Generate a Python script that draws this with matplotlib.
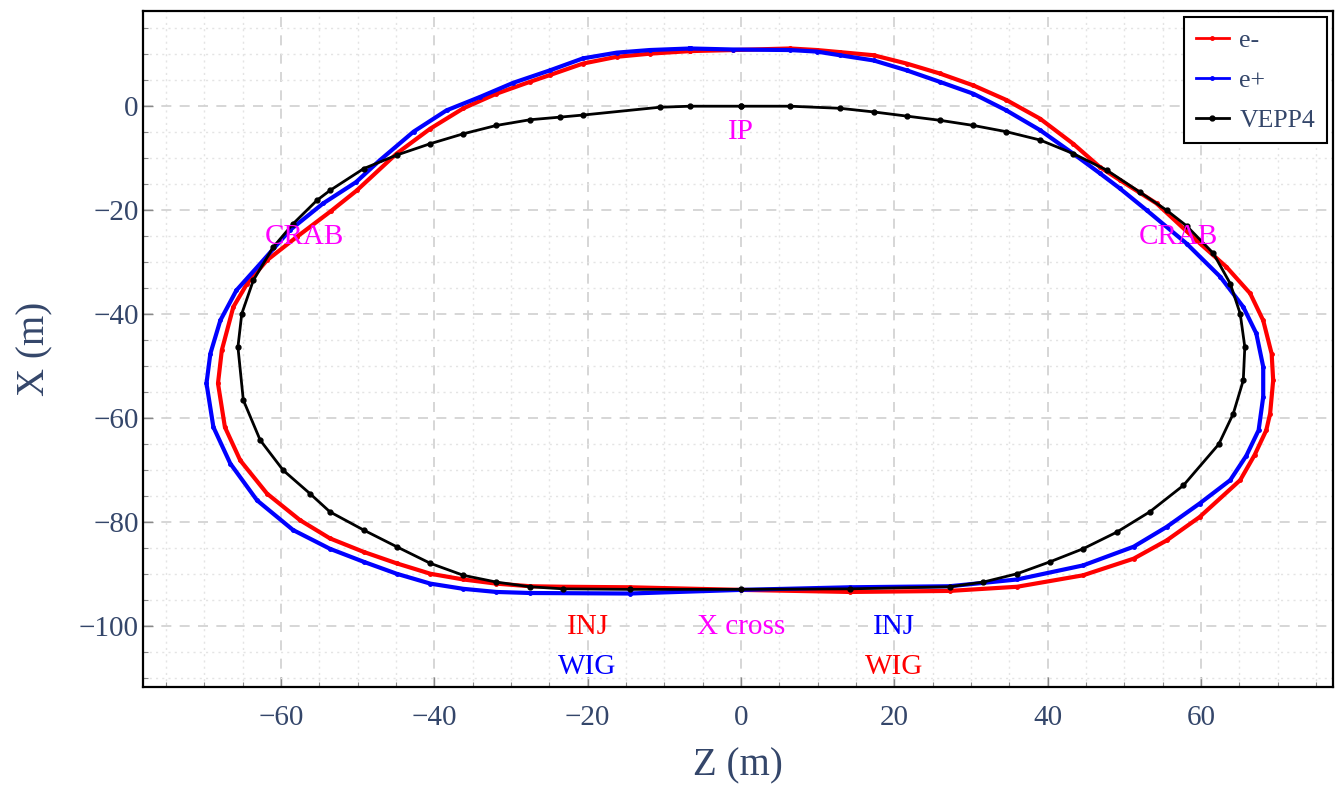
import matplotlib
matplotlib.use("Agg")
import matplotlib.pyplot as plt
from matplotlib.ticker import MultipleLocator

# e- orbit (red), going clockwise from the top
em_z = [-6.6, -1.0, 6.4, 9.9, 12.9, 17.3, 21.6, 25.9, 30.3, 34.6, 39.0, 43.3,
        46.8, 49.4, 54.2, 59.4, 63.3, 66.4, 68.1, 69.2, 69.4, 69.0, 68.5, 67.0,
        65.1, 59.8, 55.5, 51.2, 44.6, 36.0, 27.2, 14.2, 0.0, -14.5, -23.2,
        -27.5, -31.9, -36.2, -40.5, -44.9, -49.2, -53.6, -57.5, -61.8, -65.3,
        -67.3, -68.2, -67.7, -66.2, -64.4, -61.8, -57.9, -53.5, -50.1,
        -44.9, -40.5, -36.2, -31.9, -27.5, -24.9, -20.6, -16.2, -11.9, -6.6]
em_x = [10.6, 10.8, 11.1, 10.8, 10.4, 9.8, 8.2, 6.3, 4.0, 1.2, -2.4, -7.2,
        -11.7, -14.2, -18.7, -25.8, -30.9, -36.0, -41.2, -47.6, -52.7, -59.1,
        -62.3, -67.0, -71.9, -79.0, -83.5, -87.0, -90.2, -92.4, -93.2, -93.4,
        -93.0, -92.5, -92.4, -92.3, -91.8, -91.0, -89.9, -87.9, -85.7, -83.1,
        -79.6, -74.5, -68.1, -61.7, -53.3, -46.9, -38.6, -34.1, -29.6, -25.1,
        -20.2, -16.2, -9.1, -4.3, -0.4, 2.4, 4.7, 6.0, 8.2, 9.5, 10.1, 10.6]

# e+ orbit (blue)
ep_z = [-6.6, -1.0, 6.4, 9.9, 12.9, 17.3, 21.6, 25.9, 30.3, 34.6, 39.0, 43.3,
        46.8, 49.4, 52.9, 58.1, 62.5, 65.5, 67.2, 68.1, 68.1, 67.5, 65.9,
        63.8, 59.8, 55.5, 51.2, 44.6, 36.0, 27.2, 14.2, 0.0, -14.5, -27.5,
        -31.9, -36.2, -40.5, -44.9, -49.2, -53.6, -58.4, -63.1, -66.6, -68.8,
        -69.7, -69.2, -67.9, -65.8, -62.7, -58.8, -54.5, -50.2, -47.1,
        -42.7, -38.4, -34.0, -29.7, -24.9, -20.6, -16.2, -11.9, -6.6]
ep_x = [11.1, 10.9, 10.8, 10.5, 9.8, 8.8, 6.9, 4.7, 2.4, -0.8, -4.6, -9.1,
        -12.9, -15.8, -20.0, -26.4, -32.8, -38.6, -43.7, -50.1, -55.9, -62.3,
        -67.2, -71.9, -76.4, -80.9, -84.7, -88.3, -91.0, -92.3, -92.5, -93.0,
        -93.7, -93.6, -93.4, -92.8, -91.8, -89.9, -87.6, -85.1, -81.5, -75.8,
        -68.7, -61.7, -53.3, -47.6, -41.2, -35.4, -30.3, -23.8, -18.7, -14.6,
        -10.4, -4.9, -0.8, 1.8, 4.5, 6.9, 9.2, 10.3, 10.8, 11.1]

# VEPP4 ring (black)
v4_z = [0.0, 6.4, 12.9, 17.3, 21.6, 25.9, 30.3, 34.6, 39.0, 43.3, 47.7, 52.0,
        55.5, 58.1, 61.6, 63.8, 65.1, 65.7, 65.5, 64.2, 62.3, 57.7, 53.3, 49.0,
        44.6, 40.3, 36.0, 31.6, 27.2, 14.2, 0.0, -14.5, -23.2, -27.5, -31.9,
        -36.2, -40.5, -44.9, -49.2, -53.6, -56.2, -59.7, -62.7, -64.9, -65.6,
        -65.1, -63.6, -61.0, -58.4, -55.3, -53.6, -49.2, -44.9, -40.5, -36.2,
        -31.9, -27.5, -23.6, -20.6, -10.6, -6.6, 0.0]
v4_x = [0.0, 0.0, -0.4, -1.1, -1.9, -2.7, -3.7, -4.9, -6.5, -9.1, -12.3, -16.5,
        -20.0, -23.0, -28.3, -34.1, -39.9, -46.3, -52.7, -59.1, -65.0, -72.9,
        -78.0, -81.9, -85.1, -87.6, -89.9, -91.5, -92.4, -92.8, -92.9, -92.9,
        -92.8, -92.4, -91.5, -90.2, -87.9, -84.7, -81.5, -78.0, -74.5, -70.0,
        -64.2, -56.5, -46.3, -39.9, -33.5, -27.1, -22.6, -18.1, -16.2, -12.0,
        -9.4, -7.2, -5.3, -3.7, -2.6, -2.1, -1.7, -0.2, 0.0, 0.0]

# annotations: (text, z, x, colour)
labels = [("IP", 0, -5.0, "#ff00ff"),
          ("CRAB", -57, -25.2, "#ff00ff"),
          ("CRAB", 57, -25.2, "#ff00ff"),
          ("INJ", -20, -100.2, "#ff0000"),
          ("X cross", 0, -100.2, "#ff00ff"),
          ("INJ", 20, -100.2, "#0000ff"),
          ("WIG", -20, -107.9, "#0000ff"),
          ("WIG", 20, -107.9, "#ff0000")]

txt_col = "#34466a"
plt.rcParams["font.family"] = ["Liberation Serif", "DejaVu Serif"]

fig = plt.figure(figsize=(13.35, 7.88), dpi=100)
ax = fig.add_axes([0.107, 0.128, 0.8915, 0.858])

ax.plot(em_z, em_x, color="#ff0000", lw=3, marker="o", ms=2.5, label="e-")
ax.plot(ep_z, ep_x, color="#0000ff", lw=3, marker="o", ms=2.5, label="e+")
ax.plot(v4_z, v4_x, color="black", lw=2, marker="o", ms=3.5, label="VEPP4")

for t, z, x, c in labels:
    ax.text(z, x, t, color=c, fontsize=21, ha="center", va="center")

ax.set_xlim(-78, 77.2)
ax.set_ylim(-111.7, 18.3)
ax.xaxis.set_major_locator(MultipleLocator(20))
ax.yaxis.set_major_locator(MultipleLocator(20))
ax.xaxis.set_minor_locator(MultipleLocator(5))
ax.yaxis.set_minor_locator(MultipleLocator(5))
ax.grid(True, which="major", color="#d0d0d0", linestyle=(0, (6, 5)), lw=1.2)
ax.grid(True, which="minor", color="#e4e4e4", linestyle=(0, (1.5, 3)), lw=1)
ax.set_axisbelow(True)

ax.tick_params(which="both", direction="in", colors="#888888",
               labelcolor=txt_col, labelsize=21)
ax.tick_params(which="major", length=7, width=1)
ax.tick_params(which="minor", length=3.5, width=0.8)
ax.tick_params(axis="x", which="major", pad=13)
ax.tick_params(axis="y", which="major", pad=3)
for s in ax.spines.values():
    s.set_linewidth(1.6)
    s.set_color("black")

ax.set_xlabel("Z (m)", fontsize=28, color=txt_col, labelpad=12)
ax.set_ylabel("X (m)", fontsize=28, color=txt_col, labelpad=18)

leg = ax.legend(loc="upper right", fontsize=18.5, frameon=True, fancybox=False,
                edgecolor="black", framealpha=1, handlelength=1.3,
                borderpad=0.45, labelspacing=0.66, handletextpad=0.4,
                borderaxespad=0.25)
leg.get_frame().set_linewidth(1.5)
for t in leg.get_texts():
    t.set_color(txt_col)
for h in leg.get_lines():
    h.set_linewidth(2)

fig.savefig("out.png", dpi=100)
